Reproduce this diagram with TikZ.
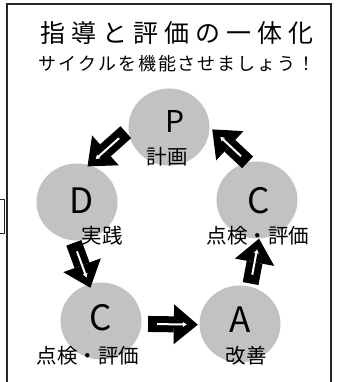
\documentclass[tikz,border=0pt]{standalone}
\usepackage{fontspec}
\setmainfont{Noto Sans CJK JP}
\usetikzlibrary{arrows.meta,shapes.geometric}
\newcommand\trA{\kern6bp\relax}
\newcommand\trB{\kern1.9bp\relax}
\begin{document}
\begin{tikzpicture}[x=1bp,y=-1bp,
  blob/.style={ellipse, minimum width=81bp, minimum height=77bp, inner sep=0pt, fill=black!24},
  big/.style={anchor=base, inner sep=0pt, font=\fontsize{35bp}{35bp}\selectfont},
  lab/.style={anchor=base, inner sep=0pt, font=\fontsize{20.5bp}{21bp}\selectfont},
  blk/.style 2 args={draw=black, line width=16bp, shorten <=#1, shorten >=#2,
    -{Triangle[length=24bp,width=40bp,line width=0pt]},
    postaction={draw=white, line width=2bp, shorten <=#1+9bp, shorten >=#2+11bp,
      -{Triangle[length=4bp,width=5bp,line width=0pt]}}}
]
\useasboundingbox (0,0) rectangle (338,382);
% frame
\draw[line width=1.2bp, black!85] (7,383) -- (7,4) -- (331,4) -- (331,383);
\draw[line width=1bp, black!85] (0,199) -- (4,199) -- (4,233) -- (0,233);
% titles
\node[anchor=base, inner sep=0pt, font=\fontsize{25bp}{25bp}\selectfont] (title) at (177.5,42)
  {指\trA 導\trA と\trA 評\trA 価\trA の\trA 一\trA 体\trA 化};
\node[anchor=base, inner sep=0pt, font=\fontsize{18bp}{18bp}\selectfont] (sub) at (177,70.5)
  {サ\trB イ\trB ク\trB ル\trB を\trB 機\trB 能\trB さ\trB せ\trB ま\trB し\trB ょ\trB う\trB ！};
% circles
\node[blob] (P) at (169,127) {};
\node[blob] (D) at (77,202) {};
\node[blob] (Cr) at (257,200) {};
\node[blob] (C2) at (101,321) {};
\node[blob] (A) at (240,324) {};
% letters
\node[big, font=\fontsize{30bp}{30bp}\selectfont] (Pl) at (175,132) {P};
\node[big] (Dl) at (82,213) {D};
\node[big] (Crl) at (259,213.5) {C};
\node[big] (C2l) at (101,330.5) {C};
\node[big] (Al) at (240,332) {A};
% labels
\node[lab] (Pt) at (167,164.8) {計画};
\node[lab] (Dt) at (102,243.8) {実践};
\node[lab] (Crt) at (258,243.8) {点検・評価};
\node[lab] (C2t) at (88,363.8) {点検・評価};
\node[lab] (At) at (246,363.8) {改善};
% arrows
\draw[blk={3.5bp}{-2bp}] (P.184) -- (D.72);
\draw[blk={2.5bp}{-4bp}] (D.264) -- (C2.108);
\draw[blk={6.5bp}{1.5bp}] (C2.-4) -- (A.181);
\draw[blk={3bp}{0bp}] (A.75) -- (Cr.273);
\draw[blk={0bp}{3.5bp}] (Cr.104) -- (P.0);
\end{tikzpicture}
\end{document}
